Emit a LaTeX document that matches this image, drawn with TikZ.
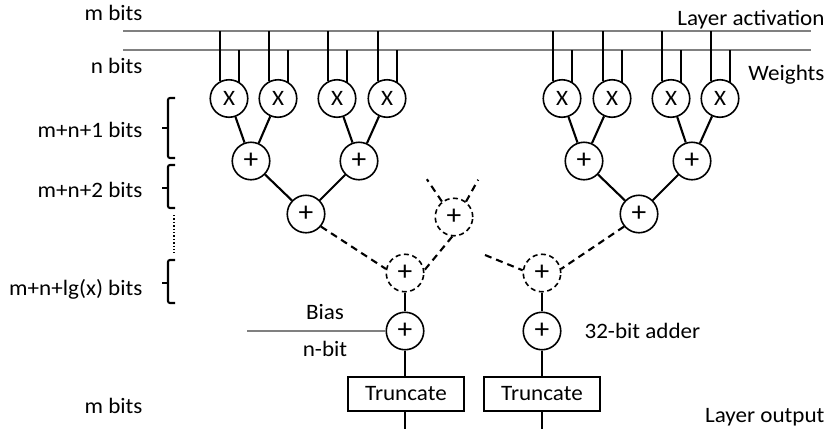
\documentclass[tikz,border=0pt]{standalone}
\usepackage{fontspec}
\setmainfont{Carlito}[FakeStretch=1.05]
\begin{document}
\begin{tikzpicture}[x=1pt,y=1pt,font=\fontsize{22}{26}\selectfont,
    op/.style={circle,draw,line width=1.6pt,minimum size=37.5pt,inner sep=0pt},
    opdash/.style={op,dash pattern=on 5pt off 3.5pt},
    mul/.style={op,font=\fontsize{22}{22}\selectfont},
    add/.style={op,font=\fontsize{28}{28}\selectfont},
    adddash/.style={opdash,font=\fontsize{28}{28}\selectfont},
    trunc/.style={draw,line width=1.4pt,minimum width=116pt,minimum height=34pt,inner sep=0pt},
    wire/.style={line width=2.1pt},
    dwire/.style={line width=2.1pt,dash pattern=on 7pt off 5pt},
    bus/.style={line width=2.2pt,gray},
    lbl/.style={anchor=base east}]
    \useasboundingbox (0,0) rectangle (830,-429);
    \coordinate (act) at (123,-31);
    \coordinate (actend) at (811,-31);
    \coordinate (wgt) at (123,-50);
    \coordinate (wgtend) at (811,-50);
    \draw [bus] (act) -- (actend);
    \draw [bus] (wgt) -- (wgtend);
    \foreach \name/\x in {ml1/229,ml2/278,ml3/337,ml4/387,mr1/562,mr2/612,mr3/671,mr4/720} {
      \node [mul] (\name) at (\x,-98.5) {X};
      \draw [wire] (\name.118) -- (\name.118 |- act);
      \draw [wire] (\name.58) -- (\name.58 |- wgt);
    }
    \node [add] (al1) at (251,-161) {+};
    \node [add] (al2) at (359,-161) {+};
    \node [add] (ar1) at (584,-161) {+};
    \node [add] (ar2) at (692,-161) {+};
    \node [add] (bl) at (306,-214) {+};
    \node [add] (br) at (639,-214) {+};
    \node [adddash] (ds) at (454,-217) {+};
    \node [adddash] (dl) at (405,-273) {+};
    \node [adddash] (dr) at (542,-273) {+};
    \node [add] (sl) at (405,-331) {+};
    \node [add] (sr) at (542,-331) {+};
    \node [trunc] (tl) at (406,-394) {Truncate};
    \node [trunc] (tr) at (542,-394) {Truncate};
    \draw [wire] (ml1) -- (al1);
    \draw [wire] (ml2) -- (al1);
    \draw [wire] (ml3) -- (al2);
    \draw [wire] (ml4) -- (al2);
    \draw [wire] (mr1) -- (ar1);
    \draw [wire] (mr2) -- (ar1);
    \draw [wire] (mr3) -- (ar2);
    \draw [wire] (mr4) -- (ar2);
    \draw [wire] (al1) -- (bl);
    \draw [wire] (al2) -- (bl);
    \draw [wire] (ar1) -- (br);
    \draw [wire] (ar2) -- (br);
    \draw [dwire] (bl.-40) -- (dl.168);
    \draw [dwire] (ds.-95) -- (dl.8);
    \draw [dwire] (br.-140) -- (dr.12);
    \draw [dwire] (ds.128) -- ++(124:27);
    \draw [dwire] (ds.52) -- ++(61:25);
    \coordinate (drin) at (485,-255);
    \draw [dwire] (drin) -- (dr.172);
    \draw [wire] (dl) -- (sl);
    \draw [wire] (dr) -- (sr);
    \draw [wire] (sl) -- (tl.north -| sl);
    \draw [wire] (sr) -- (tr);
    \coordinate (outl) at (405,-429);
    \coordinate (outr) at (542,-429);
    \draw [wire] (tl.south -| outl) -- (outl);
    \draw [wire] (tr) -- (outr);
    \coordinate (bias) at (247,-331);
    \draw [bus] (bias) -- (sl);
    \node [anchor=base] at (325,-319) {Bias};
    \node [anchor=base] at (325,-356) {n-bit};
    \node [anchor=base west] at (581,-338) {32-bit adder};
    \node [lbl] at (146,-20) {m bits};
    \node [lbl] at (146,-73) {n bits};
    \node [lbl] at (146,-137) {m+n+1 bits};
    \node [lbl] at (146,-197) {m+n+2 bits};
    \node [lbl] at (146,-295) {m+n+lg(x) bits};
    \node [lbl] at (146,-413) {m bits};
    \node [lbl] at (828,-25) {Layer activation};
    \node [lbl] at (828,-80) {Weights};
    \node [lbl] at (828,-422) {Layer output};
    \draw [wire,rounded corners=2pt] (175,-98) -- (168,-98) -- (168,-158) -- (175,-158);
    \draw [wire] (162,-128) -- (168,-128);
    \draw [wire,rounded corners=2pt] (175,-165) -- (168,-165) -- (168,-208) -- (175,-208);
    \draw [wire] (162,-188) -- (168,-188);
    \draw [line width=1.4pt,dotted] (174,-215) -- (174,-253);
    \draw [wire,rounded corners=2pt] (175,-260) -- (168,-260) -- (168,-303) -- (175,-303);
    \draw [wire] (162,-283) -- (168,-283);
\end{tikzpicture}
\end{document}
